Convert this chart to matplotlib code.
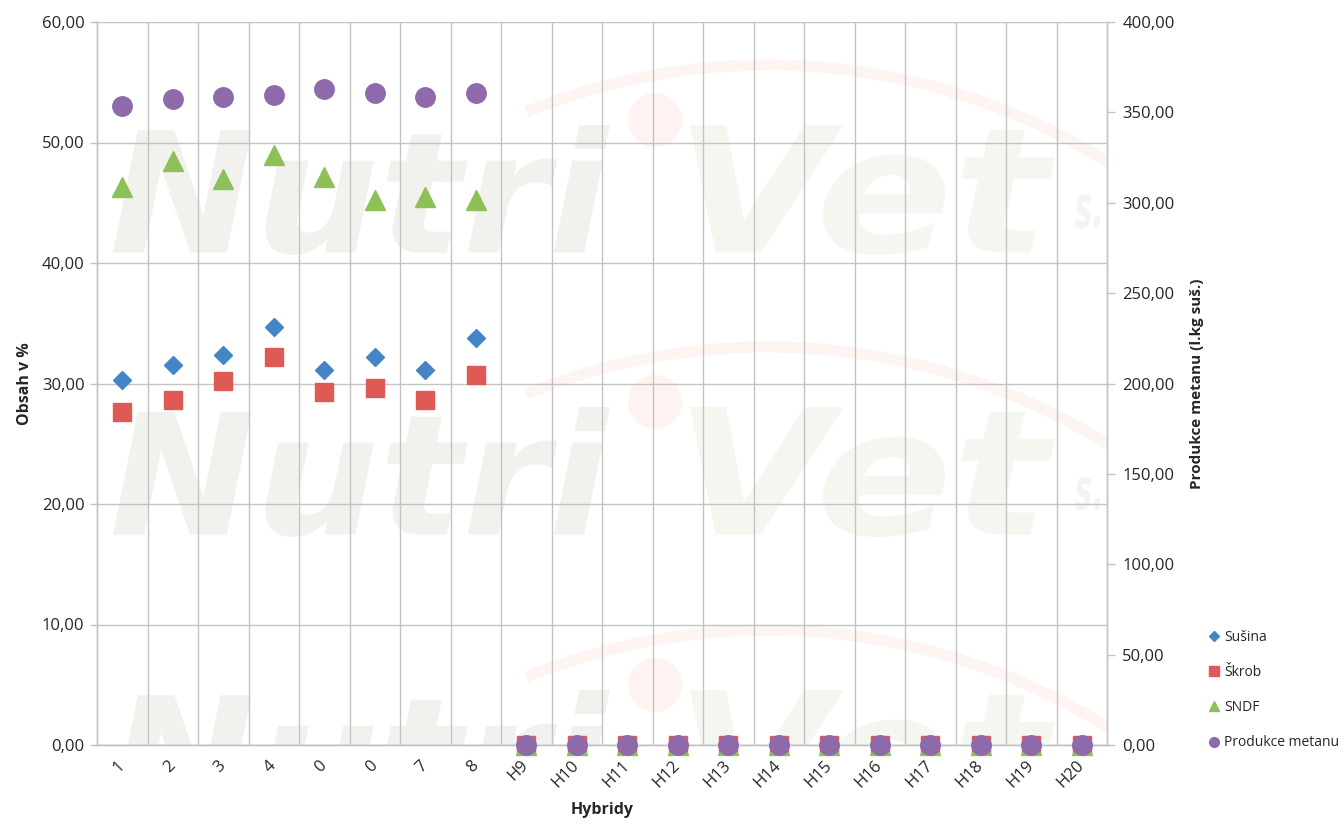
import matplotlib
matplotlib.use("Agg")
import matplotlib.pyplot as plt
from matplotlib.ticker import FuncFormatter, FixedLocator
from matplotlib.textpath import TextPath
from matplotlib.font_manager import FontProperties
from matplotlib.patches import PathPatch, Arc, Circle
from matplotlib.transforms import Affine2D

plt.rcParams['font.family'] = ['Open Sans', 'DejaVu Sans']

# data
hybridy = ['1', '2', '3', '4', '0', '0', '7', '8', 'H9', 'H10', 'H11', 'H12',
           'H13', 'H14', 'H15', 'H16', 'H17', 'H18', 'H19', 'H20']
susina = [30.3, 31.5, 32.4, 34.7, 31.1, 32.2, 31.1, 33.8] + [0] * 12
skrob = [27.6, 28.6, 30.2, 32.2, 29.3, 29.6, 28.6, 30.7] + [0] * 12
sndf = [46.3, 48.5, 47.0, 49.0, 47.1, 45.2, 45.5, 45.2] + [0] * 12
metan = [353.5, 357.2, 358.5, 359.4, 362.9, 360.9, 358.5, 360.9] + [0] * 12

c_blue = '#4485C5'
c_red = '#E05A55'
c_green = '#8DC056'
c_purple = '#8E6AAA'
grid_c = '#C3C3C3'
txt_c = '#262626'

W, H = 1344, 825
fig = plt.figure(figsize=(W / 100, H / 100), dpi=100)
L, R, T, B = 97, 1107, 22, 745
ax = fig.add_axes([L / W, 1 - B / H, (R - L) / W, (B - T) / H])
ax2 = ax.twinx()

x = list(range(len(hybridy)))

# watermark (NutriVet logo in the background), in pixel coords of the axes
px = Affine2D().scale(1 / (R - L), 1 / (B - T)) + ax.transAxes
fp = FontProperties(family='DejaVu Sans', weight='bold', style='italic')


def logo_text(s, x0, x1, ytop, ybot, color):
    tp = TextPath((0, 0), s, size=1, prop=fp)
    ext = tp.get_extents()
    tr = Affine2D().translate(-ext.x0, -ext.y0).scale(
        (x1 - x0) / ext.width, (ybot - ytop) / ext.height).translate(x0 - L, B - ybot)
    p = PathPatch(tr.transform_path(tp), facecolor=color, edgecolor='none',
                  transform=px, zorder=0.1)
    ax.add_patch(p)


for off in [0, 282, 565]:
    logo_text('Nutri', 113, 610, 125 + off, 255 + off, '#F1F1EE')
    logo_text('Vet', 690, 1055, 125 + off, 255 + off, '#F4F6F0')
    logo_text('s.', 1075, 1100, 195 + off, 228 + off, '#F3F4F0')
    ax.add_patch(Arc((767.6 - L, B - 709 - off), 1288, 1288, theta1=58, theta2=112,
                     color='#FEF4F1', lw=8, transform=px, zorder=0.1))
    ax.add_patch(Circle((655 - L, B - 120 - off), 27, color='#FEF3F0', ec='none',
                        transform=px, zorder=0.1))

ax.plot(x, susina, linestyle='none', marker='D', ms=9.5, color=c_blue, mec=c_blue,
        label='Sušina', clip_on=False, zorder=3)
ax.plot(x, skrob, linestyle='none', marker='s', ms=13.5, color=c_red, mec=c_red,
        label='Škrob', clip_on=False, zorder=3)
ax.plot(x, sndf, linestyle='none', marker='^', ms=14, color=c_green, mec=c_green,
        label='SNDF', clip_on=False, zorder=3)
ax2.plot(x, metan, linestyle='none', marker='o', ms=14, color=c_purple, mec=c_purple,
         label='Produkce metanu', clip_on=False, zorder=3)

ax.set_xlim(-0.5, len(hybridy) - 0.5)
ax.set_ylim(0, 60)
ax2.set_ylim(0, 400)

comma = FuncFormatter(lambda v, p: f'{v:.2f}'.replace('.', ','))
ax.yaxis.set_major_locator(FixedLocator(range(0, 61, 10)))
ax.yaxis.set_major_formatter(comma)
ax2.yaxis.set_major_locator(FixedLocator(range(0, 401, 50)))
ax2.yaxis.set_major_formatter(comma)

ax.set_xticks(x)
ax.set_xticklabels(hybridy, rotation=45, ha='right', va='center', rotation_mode='anchor')
ax.set_xticks([i + 0.5 for i in x[:-1]], minor=True)
ax.tick_params(axis='x', which='both', length=0, labelsize=12, labelcolor=txt_c, pad=13)
for lab in ax.get_xticklabels():
    lab.set_x(lab.get_position()[0])
ax.tick_params(axis='y', length=5, width=1, color=grid_c, labelsize=12,
               labelcolor=txt_c, pad=4)
ax2.tick_params(axis='y', length=6, width=1, color=grid_c, labelsize=12,
                labelcolor=txt_c, pad=5)

ax.set_axisbelow(True)
ax.grid(True, axis='y', which='major', color=grid_c, lw=1)
ax.grid(True, axis='x', which='minor', color=grid_c, lw=1)

for a in (ax, ax2):
    a.spines['top'].set_visible(False)
    for s in ('left', 'right', 'bottom'):
        a.spines[s].set_color(grid_c)
        a.spines[s].set_linewidth(1)

ax.set_ylabel('Obsah v %', fontsize=11.5, fontweight='bold', color=txt_c, labelpad=6)
ax2.set_ylabel('Produkce metanu (l.kg suš.)', fontsize=11, fontweight='bold',
               color=txt_c, labelpad=11)
ax.set_xlabel('Hybridy', fontsize=11.5, fontweight='bold', color=txt_c, labelpad=8)

h1, l1 = ax.get_legend_handles_labels()
h2, l2 = ax2.get_legend_handles_labels()
fig.legend(h1 + h2, l1 + l2, loc='upper left', bbox_to_anchor=(1210 / W, 1 - 630 / H),
           frameon=False, fontsize=10, markerscale=0.5, handlelength=0.6,
           handletextpad=0.4, labelspacing=1.45, borderaxespad=0, borderpad=0,
           labelcolor=txt_c)

fig.savefig('out.png', dpi=100)
